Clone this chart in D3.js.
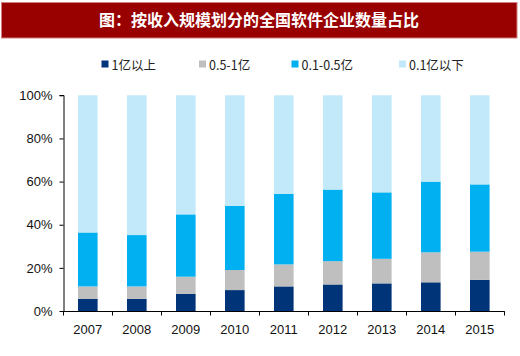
<!DOCTYPE html>
<html><head><meta charset="utf-8">
<script src="https://cdn.jsdelivr.net/npm/d3@7"></script>
<style>body{margin:0;background:#fff}svg{display:block}</style>
</head><body>
<svg id="c" width="520" height="356"></svg>
<script>
const years = ["2007","2008","2009","2010","2011","2012","2013","2014","2015"];
const seriesNames = ["1亿以上","0.5-1亿","0.1-0.5亿","0.1亿以下"];
const above1 = [5.7,5.6,7.9,9.7,11.4,12.3,12.8,13.3,14.4];
const from05to1 = [5.7,5.8,8.0,9.3,10.2,10.8,11.4,13.9,13.1];
const from01to05 = [25.0,23.8,28.9,29.8,32.7,33.2,30.8,32.8,31.2];
const below01 = [63.6,64.8,55.2,51.2,45.7,43.7,45.0,40.0,41.3];
const yTicks = [0,20,40,60,80,100];
const colors = ["#003478","#bfbfbf","#00b0f0","#c2e9fa"];

const svg = d3.select("#c");
// title bar
svg.append("rect").attr("x",1.5).attr("y",2.5).attr("width",515.5).attr("height",35.5)
  .attr("fill","#990000").attr("stroke","#d08080").attr("stroke-width",1);
svg.append("text").attr("x",259).attr("y",26).attr("text-anchor","middle")
  .attr("fill","#fff").attr("font-family","'Noto Sans CJK SC'").attr("font-weight","bold")
  .attr("font-size",16).text("图：按收入规模划分的全国软件企业数量占比");

const keys = ["a","b","c","d"];
const rows = years.map((y,i)=>({year:y,a:above1[i],b:from05to1[i],c:from01to05[i],d:below01[i]}));
const stack = d3.stack().keys(keys).offset(d3.stackOffsetExpand)(rows);

const x = d3.scaleBand().domain(years).range([63.3,504.3]).paddingInner(0.6).paddingOuter(0.3);
const y = d3.scaleLinear().domain([0,1]).range([311,95.3]);

const g = svg.append("g");
stack.forEach((s,k)=>{
  g.selectAll(null).data(s).enter().append("rect")
    .attr("x",d=>x(d.data.year)).attr("width",x.bandwidth())
    .attr("y",d=>y(d[1])).attr("height",d=>y(d[0])-y(d[1]))
    .attr("fill",colors[k]);
});

const font = "'Liberation Sans', Arial, sans-serif";
// y axis
const ya = svg.append("g").attr("transform","translate(63.5,0)")
  .call(d3.axisLeft(y).tickValues(yTicks.map(v=>v/100)).tickFormat(d=>Math.round(d*100)+"%").tickSize(4).tickPadding(7));
ya.select(".domain").attr("stroke","#000").attr("d","M-4,95.5H0.5V311.5");
ya.selectAll("text").attr("font-family",font).attr("font-size",13).attr("fill","#111");
// x axis
const step = x.step();
const xa = svg.append("g").attr("transform","translate(0,311.5)");
xa.append("line").attr("x1",63).attr("x2",504.8).attr("stroke","#000");
d3.range(years.length+1).forEach(i=>{
  const px = Math.round(63.3 + i*step)+0.5;
  xa.append("line").attr("x1",px).attr("x2",px).attr("y1",0).attr("y2",4).attr("stroke","#000");
});
xa.selectAll("text.lbl").data(years).enter().append("text")
  .attr("x",d=>x(d)+x.bandwidth()/2).attr("y",22.5).attr("text-anchor","middle")
  .attr("font-family",font).attr("font-size",13).attr("fill","#111").text(d=>d);

// legend
const legX = [101.5,199,291.5,399];
const leg = svg.append("g");
seriesNames.forEach((n,i)=>{
  leg.append("rect").attr("x",legX[i]).attr("y",60.5).attr("width",7).attr("height",7).attr("fill",colors[i]);
  leg.append("text").attr("x",legX[i]+10).attr("y",69.5).attr("font-family","'Noto Sans CJK SC', 'Liberation Sans', sans-serif")
    .attr("font-size",12.5).attr("fill","#222").text(n);
});
</script>
</body></html>
